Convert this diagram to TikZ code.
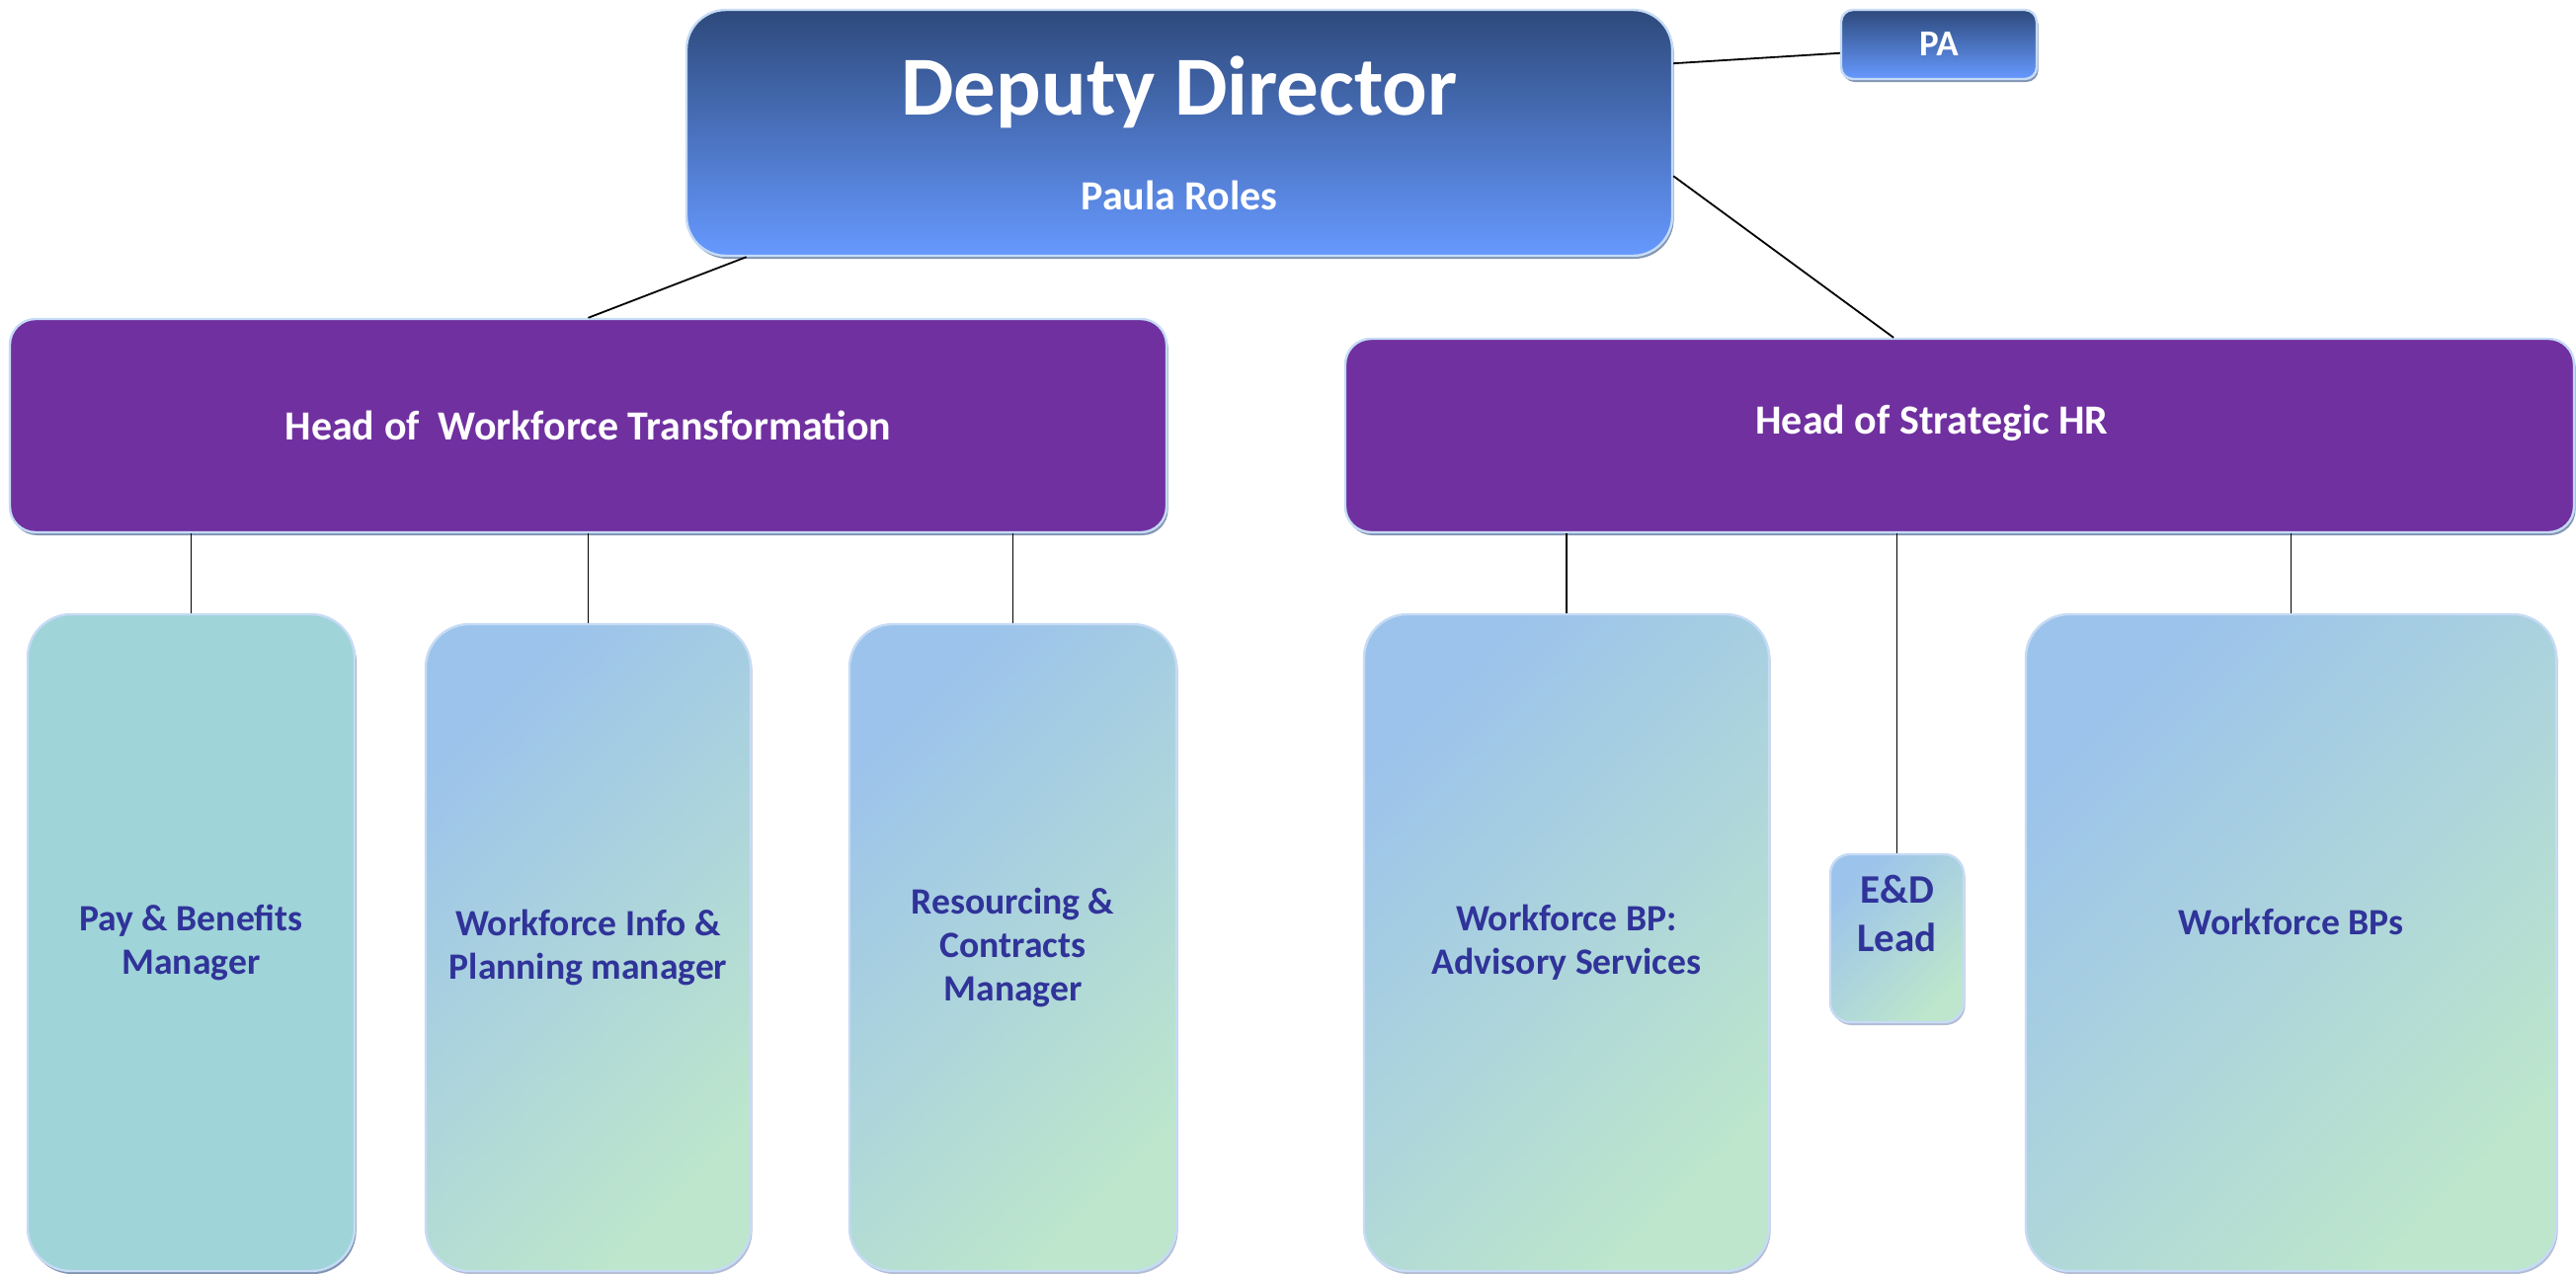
\documentclass[tikz,border=0pt]{standalone}
\usepackage{fontspec}
\setmainfont{Carlito}
\usetikzlibrary{shadows}
\definecolor{ddtop}{RGB}{46,74,124}
\definecolor{ddbot}{RGB}{102,153,255}
\definecolor{headc}{HTML}{7030A0}
\definecolor{rimc}{HTML}{C6DBF5}
\definecolor{shadc}{HTML}{8195B3}
\definecolor{lshadc}{HTML}{B3BDD3}
\definecolor{roletop}{HTML}{9CC3EB}
\definecolor{rolebot}{HTML}{BDE6CC}
\definecolor{payc}{HTML}{9FD4D9}
\definecolor{roletxt}{HTML}{303399}

\begin{document}
\begin{tikzpicture}[x=0.5pt,y=-0.5pt]
\tikzstyle{bx}=[draw=rimc,line width=1.2pt,inner sep=0pt,align=center,font=\bfseries\fontsize{21}{25}\selectfont]
\tikzstyle{dd}=[bx,top color=ddtop,bottom color=ddbot,text=white,rounded corners=20pt,
  drop shadow={shadow xshift=0.8pt,shadow yshift=-1.5pt,fill=shadc,opacity=1}]
\tikzstyle{hd}=[bx,fill=headc,text=white,rounded corners=13pt,
  drop shadow={shadow xshift=0.8pt,shadow yshift=-1.5pt,fill=shadc,opacity=1}]
\tikzstyle{rl}=[bx,top color=roletop,bottom color=rolebot,shading angle=45,text=roletxt,
  rounded corners=22pt,font=\bfseries\fontsize{18.8}{22.2}\selectfont,
  drop shadow={shadow xshift=0.8pt,shadow yshift=-1.5pt,fill=lshadc,opacity=1}]
\useasboundingbox (0,0) rectangle (2608,1290);

\node [dd,minimum width=499pt,minimum height=124.5pt] (dd) at (1194,134.5)
  {{\fontsize{42.5}{50}\selectfont Deputy Director}\\[23pt]Paula Roles};
\node [dd,rounded corners=6pt,minimum width=99pt,minimum height=35pt,font=\bfseries\fontsize{18.5}{22}\selectfont] (pa) at (1963,45) {PA};

\node [hd,minimum width=585.5pt,minimum height=108pt] (wt) at (595.5,431) {Head of \ Workforce Transformation};
\node [hd,minimum width=622pt,minimum height=98pt,text depth=16pt] (hr) at (1984,441) {Head of Strategic HR\hspace*{28pt}};

\node [rl,top color=payc,bottom color=payc,minimum width=165.5pt,minimum height=332.5pt,
  drop shadow={shadow xshift=0.8pt,shadow yshift=-1.5pt,fill=shadc,opacity=1}] (pb) at (193.5,954.5) {Pay \& Benefits\\Manager};
\node [rl,minimum width=164.5pt,minimum height=327.5pt] (wi) at (595.5,959.5) {Workforce Info \&\\Planning manager};
\node [rl,minimum width=165.5pt,minimum height=327.5pt] (rc) at (1025.5,959.5) {Resourcing \&\\Contracts\\Manager};
\node [rl,minimum width=205pt,minimum height=332.5pt] (adv) at (1586,954.5) {Workforce BP:\\Advisory Services};
\node [rl,rounded corners=10pt,minimum width=67.5pt,minimum height=85pt,
  font=\bfseries\fontsize{20.5}{24.5}\selectfont,text depth=25pt] (ed) at (1920.5,950) {E\&D\\Lead};
\node [rl,minimum width=268.5pt,minimum height=332.5pt,text depth=21pt] (bps) at (2319.5,954.5) {Workforce BPs};

\path[line width=0.9pt]
(dd.8) edge (pa.185)
(dd.196) edge (wt.north)
(dd.-5) edge (hr.124)
(wt.south -| pb.north) edge (pb.north)
(wt.south -| wi.north) edge (wi.north)
(wt.south -| rc.north) edge (rc.north)
(hr.south -| adv.north) edge (adv.north)
(hr.south -| ed.north) edge (ed.north)
(hr.south -| bps.north) edge (bps.north);
\end{tikzpicture}
\end{document}
